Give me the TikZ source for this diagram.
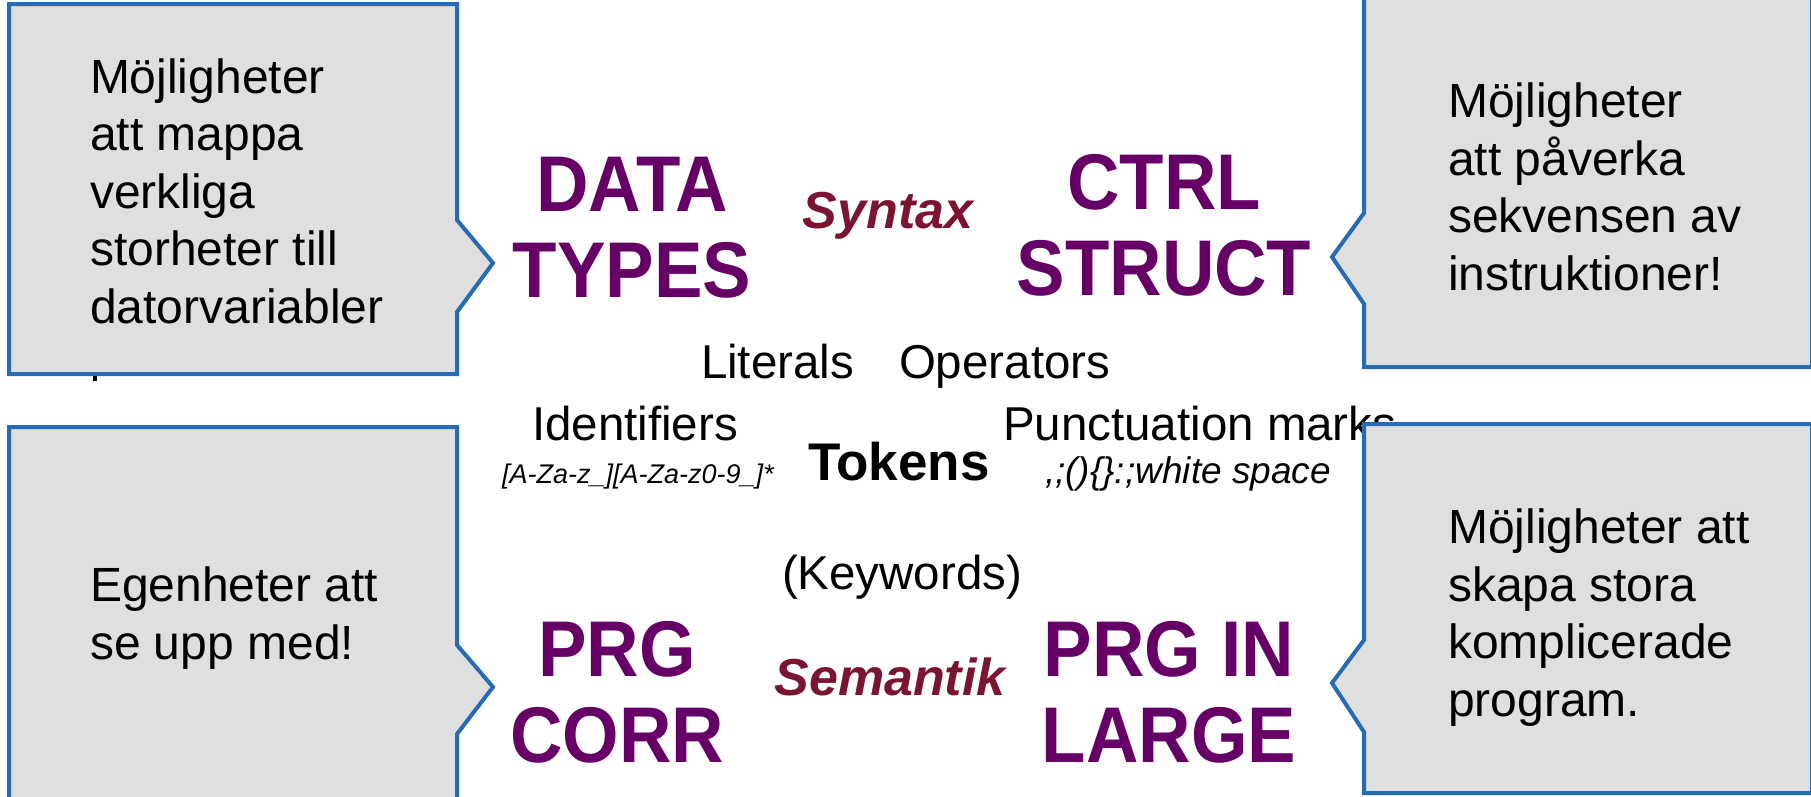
\documentclass[tikz,border=0pt]{standalone}
\usepackage{fontspec}
\setmainfont{Liberation Sans}
\definecolor{headpurple}{RGB}{102,0,102}
\definecolor{labelred}{RGB}{122,20,48}
\definecolor{calloutblue}{RGB}{37,107,181}
\definecolor{calloutgrey}{RGB}{223,223,223}
\begin{document}
\begin{tikzpicture}[x=1pt,y=-1pt,
  every node/.style={inner sep=0pt, outer sep=0pt},
  % multi-line nodes: the base anchor sits on the last line
  heading/.style={text=headpurple, font=\fontsize{79}{86}\selectfont\bfseries\addfontfeature{FakeStretch=0.92}, align=center, anchor=base},
  layer/.style={text=labelred, font=\fontsize{52}{60}\selectfont\bfseries\itshape, anchor=base},
  token/.style={font=\fontsize{47.5}{57}\selectfont, anchor=base west},
  pattern/.style={font=\fontsize{27}{32}\selectfont\itshape, anchor=base west},
  callout/.style={fill=calloutgrey, draw=calloutblue, line width=4pt, line join=miter},
  calltext/.style={font=\fontsize{48}{57.5}\selectfont, align=left, anchor=base west}]
\useasboundingbox (0,0) rectangle (1811,796);

% four corner topics
\node[heading] (data) at (632,297) {DATA\\TYPES};
\node[heading] (ctrl) at (1164,295) {CTRL\\STRUCT};
\node[heading] (corr) at (617,762) {PRG\\CORR};
\node[heading] (large) at (1169,762) {PRG IN\\LARGE};

% syntax / semantics
\node[layer] (syntax) at (888,228) {Syntax};
\node[layer] (semantik) at (890,695) {Semantik};

% token classes
\node[token] (literals) at (701,378) {Literals};
\node[token] (operators) at (899,378) {Operators};
\node[token] (ident) at (532,440) {Identifiers};
\node[pattern] (identre) at (502,483) {[A-Za-z\_][A-Za-z0-9\_]*};
\node[token, font=\fontsize{53}{60}\selectfont\bfseries] (tokens) at (808,480) {Tokens};
\node[token] (punct) at (1003,440) {Punctuation marks};
\node[pattern, font=\fontsize{37}{44}\selectfont\itshape] (punctre) at (1045,483) {,;()\{\}:;white space};
\node[token] (keywords) at (782,589) {(Keywords)};

% callouts
\path[callout] (9,4) -- (457,4) -- (457,220) -- (493,263) -- (457,312)
  -- (457,374) -- (9,374) -- cycle;
\path[callout] (1364,-10) -- (1812,-10) -- (1812,367) -- (1364,367)
  -- (1364,304) -- (1332,257) -- (1364,213) -- cycle;
\path[callout] (9,427) -- (457,427) -- (457,645) -- (493,687) -- (457,734)
  -- (457,810) -- (9,810) -- cycle;
\path[callout] (1364,424) -- (1812,424) -- (1812,793) -- (1364,793)
  -- (1364,732) -- (1332,683) -- (1364,640) -- cycle;
\fill (93,376) rectangle (97,381);

\node[calltext] (tltext) at (90,323) {Möjligheter\\att mappa\\verkliga\\storheter till\\datorvariabler};
\node[calltext] (trtext) at (1448,290) {Möjligheter\\att påverka\\sekvensen av\\instruktioner!};
\node[calltext] (bltext) at (90,659) {Egenheter att\\se upp med!};
\node[calltext] (brtext) at (1448,716) {Möjligheter att\\skapa stora\\komplicerade\\program.};
\end{tikzpicture}
\end{document}
